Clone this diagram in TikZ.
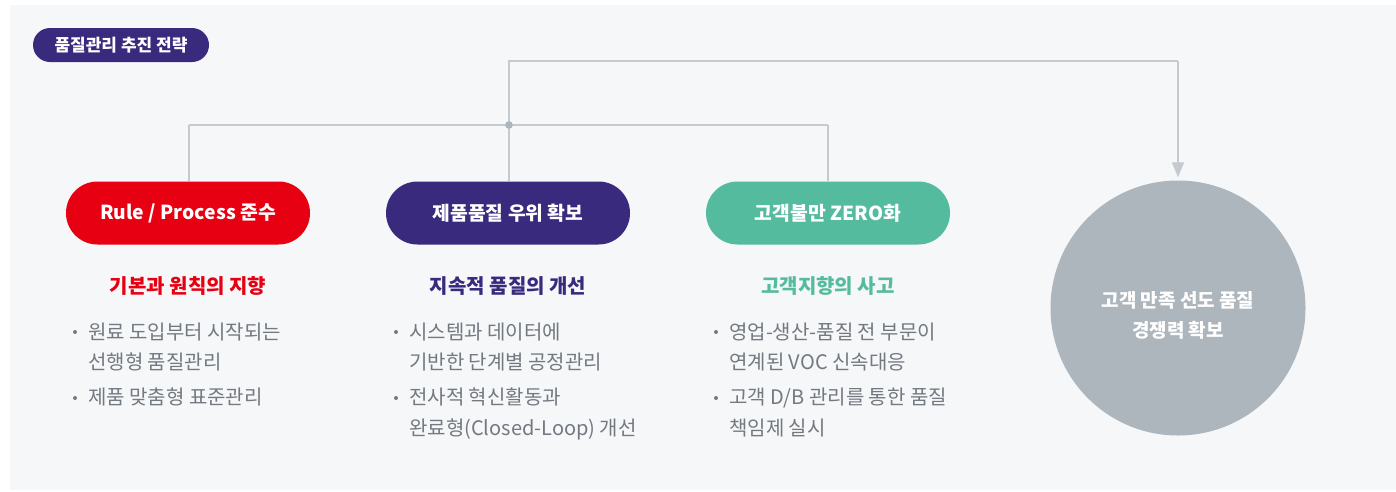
\documentclass[tikz,border=0pt]{standalone}
\usepackage{fontspec}
\setmainfont{Noto Sans CJK KR}
\usetikzlibrary{arrows.meta}
\definecolor{bgpanel}{HTML}{F6F7F9}
\definecolor{cred}{HTML}{E60012}
\definecolor{cpurple}{HTML}{392A7E}
\definecolor{cgreen}{HTML}{55BB9E}
\definecolor{cgray}{HTML}{AEB6BD}
\definecolor{cline}{HTML}{C5CAD0}
\definecolor{ctext}{HTML}{727980}
\tikzset{
  pill/.style={rounded corners=31.5pt, minimum width=244pt, minimum height=63pt, inner sep=0pt, text=white, font=\fontsize{19.3}{22}\selectfont\bfseries},
  subt/.style={font=\fontsize{20}{23}\selectfont\bfseries, inner sep=0pt},
  bul/.style={anchor=base west, font=\fontsize{20}{23}\selectfont, text=ctext, inner sep=0pt},
  dotb/.style={circle, fill=ctext, minimum size=4pt, inner sep=0pt},
  conn/.style={draw=cline, line width=1.3pt},
}
\begin{document}
\begin{tikzpicture}[x=1pt,y=-1pt]
\useasboundingbox (0,0) rectangle (1396,491);
\fill[white] (0,0) rectangle (1396,491);
\fill[bgpanel] (10,5) rectangle (1396,490);
% title
\node[fill=cpurple, rounded corners=17pt, minimum width=176pt, minimum height=34pt, inner sep=0pt, text=white, font=\fontsize{17}{20}\selectfont\bfseries] (title) at (121,45) {품질관리 추진 전략};
% pills
\node[pill, fill=cred] (p1) at (188,213) {Rule / Process 준수};
\node[pill, fill=cpurple] (p2) at (508,213) {제품품질 우위 확보};
\node[pill, fill=cgreen] (p3) at (828,213) {고객불만 ZERO화};
% circle
\node[circle, fill=cgray, minimum size=255pt, inner sep=0pt] (goal) at (1178,308) {};
\node[text=white, align=center, inner sep=0pt, font=\fontsize{19}{30}\selectfont\bfseries] (goaltxt) at (1178,315) {고객 만족 선도 품질\\경쟁력 확보};
% connectors
\coordinate (j) at (509,125);
\coordinate (t1) at (509,61);
\coordinate (t2) at (1178,61);
\coordinate (h1) at (189,125);
\coordinate (h3) at (828,125);
\draw[conn] (h1) -- (h3);
\draw[conn] (h1) -- (p1.north -| h1);
\draw[conn] (j) -- (p2.north -| j);
\draw[conn] (h3) -- (p3.north);
\draw[conn] (j) -- (t1) -- (t2);
\draw[conn, -{Triangle[length=15pt,width=12pt]}, shorten >=3pt] (t2) -- (goal.north);
\fill[cgray] (j) circle (3.8pt);
% subtitles
\node[subt, text=cred] (s1) at (188,286) {기본과 원칙의 지향};
\node[subt, text=cpurple] (s2) at (508,286) {지속적 품질의 개선};
\node[subt, text=cgreen] (s3) at (828,286) {고객지향의 사고};
% bullets col 1
\node[dotb] (d11) at (75,332) {};
\node[bul] (b11) at (88,339.5) {원료 도입부터 시작되는};
\node[bul] (b12) at (88,369.5) {선행형 품질관리};
\node[dotb] (d12) at (75,398) {};
\node[bul] (b13) at (88,404.5) {제품 맞춤형 표준관리};
% col 2
\node[dotb] (d21) at (396,332) {};
\node[bul] (b21) at (409,339.5) {시스템과 데이터에};
\node[bul] (b22) at (409,369.5) {기반한 단계별 공정관리};
\node[dotb] (d22) at (396,398) {};
\node[bul] (b23) at (409,404.5) {전사적 혁신활동과};
\node[bul] (b24) at (409,435.5) {완료형(Closed-Loop) 개선};
% col 3
\node[dotb] (d31) at (716,332) {};
\node[bul] (b31) at (729,339.5) {영업-생산-품질 전 부문이};
\node[bul] (b32) at (729,369.5) {연계된 VOC 신속대응};
\node[dotb] (d32) at (716,398) {};
\node[bul] (b33) at (729,404.5) {고객 D/B 관리를 통한 품질};
\node[bul] (b34) at (729,435.5) {책임제 실시};
\end{tikzpicture}
\end{document}
